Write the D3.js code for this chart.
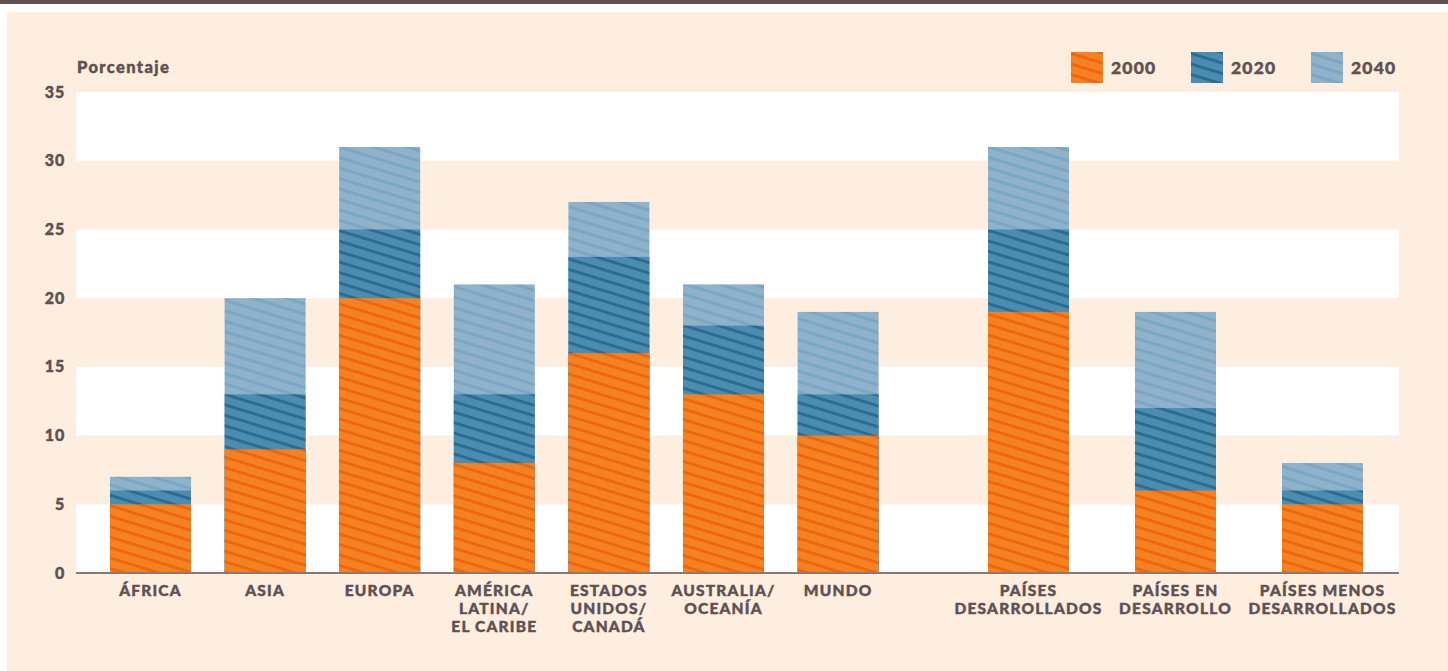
<!DOCTYPE html>
<html>
<head>
<meta charset="utf-8">
<script src="https://cdn.jsdelivr.net/npm/d3@7/dist/d3.min.js"></script>
<style>
  html, body { margin: 0; padding: 0; background: #ffffff; }
  svg { display: block; }
  text { font-family: Lato, "Open Sans", sans-serif; font-weight: 900; fill: #5e5152;
         stroke: #5e5152; stroke-width: 0.45px; }
</style>
</head>
<body>
<script>
// Población de 60 años o más, por región (porcentaje)
const categories = [
  "ÁFRICA", "ASIA", "EUROPA", "AMÉRICA LATINA/ EL CARIBE", "ESTADOS UNIDOS/ CANADÁ",
  "AUSTRALIA/ OCEANÍA", "MUNDO", "PAÍSES DESARROLLADOS", "PAÍSES EN DESARROLLO",
  "PAÍSES MENOS DESARROLLADOS"
];
const labelLines = [
  ["ÁFRICA"], ["ASIA"], ["EUROPA"], ["AMÉRICA", "LATINA/", "EL CARIBE"],
  ["ESTADOS", "UNIDOS/", "CANADÁ"], ["AUSTRALIA/", "OCEANÍA"], ["MUNDO"],
  ["PAÍSES", "DESARROLLADOS"], ["PAÍSES EN", "DESARROLLO"], ["PAÍSES MENOS", "DESARROLLADOS"]
];
const groupOf = ["region", "region", "region", "region", "region", "region", "region",
                 "desarrollo", "desarrollo", "desarrollo"];
const years = ["2000", "2020", "2040"];
const v2000 = [5, 9, 20, 8, 16, 13, 10, 19, 6, 5];
const v2020 = [6, 13, 25, 13, 23, 18, 13, 25, 12, 6];
const v2040 = [7, 20, 31, 21, 27, 21, 19, 31, 19, 8];
const yTicks = [0, 5, 10, 15, 20, 25, 30, 35];

const W = 1448, H = 671;
const svg = d3.select("body").append("svg").attr("width", W).attr("height", H);

// frame: dark rule on top, cream panel below
svg.append("rect").attr("x", 0).attr("y", 0).attr("width", W).attr("height", 4).attr("fill", "#5e5152");
svg.append("rect").attr("x", 7).attr("y", 12).attr("width", W - 7).attr("height", H - 12).attr("fill", "#feeee0");

// hatch patterns
const palette = {
  "2000": { base: "#f58220", stripe: "#ee6412" },
  "2020": { base: "#4a8db1", stripe: "#2b6991" },
  "2040": { base: "#8fb1c9", stripe: "#77a7c4" }
};
const defs = svg.append("defs");
years.forEach(yr => {
  const p = defs.append("pattern")
    .attr("id", "hatch" + yr)
    .attr("patternUnits", "userSpaceOnUse")
    .attr("width", 10).attr("height", 10)
    .attr("patternTransform", "rotate(17)");
  p.append("rect").attr("width", 10).attr("height", 10).attr("fill", palette[yr].base);
  p.append("rect").attr("y", 0).attr("width", 10).attr("height", 2.8).attr("fill", palette[yr].stripe);
});

// scales
const plotLeft = 76, plotRight = 1399, plotTop = 92, plotBottom = 573;
const y = d3.scaleLinear().domain([0, 35]).range([plotBottom, plotTop]);

const regionIdx = categories.filter((c, i) => groupOf[i] === "region");
const devIdx = categories.filter((c, i) => groupOf[i] === "desarrollo");
const xRegion = d3.scaleBand().domain(regionIdx).range([93.2, 895.4]).paddingInner(0.293).paddingOuter(0.1465);
const xDev = d3.scaleBand().domain(devIdx).range([955, 1396]).paddingInner(0.449).paddingOuter(0.2245);
const xPos = (c, i) => groupOf[i] === "region" ? xRegion(c) : xDev(c);
const bw = i => groupOf[i] === "region" ? xRegion.bandwidth() : xDev.bandwidth();

// alternating horizontal bands
const bands = d3.range(0, 35, 5);
svg.append("g").selectAll("rect").data(bands).join("rect")
  .attr("x", plotLeft).attr("width", plotRight - plotLeft)
  .attr("y", d => y(d + 5)).attr("height", d => y(d) - y(d + 5))
  .attr("fill", d => (d / 5) % 2 === 0 ? "#ffffff" : "#feeee0");

// bars: tallest (2040) first, the earlier years drawn over them
const series = [["2040", v2040], ["2020", v2020], ["2000", v2000]];
const barsG = svg.append("g");
series.forEach(([yr, vals]) => {
  barsG.append("g").selectAll("rect").data(categories).join("rect")
    .attr("x", (c, i) => xPos(c, i))
    .attr("width", (c, i) => bw(i))
    .attr("y", (c, i) => y(vals[i]))
    .attr("height", (c, i) => y(0) - y(vals[i]))
    .attr("fill", `url(#hatch${yr})`);
});

// baseline
svg.append("line").attr("x1", plotLeft).attr("x2", plotRight)
  .attr("y1", plotBottom).attr("y2", plotBottom)
  .attr("stroke", "#857a7a").attr("stroke-width", 2);

// y axis labels
const yAxis = d3.axisLeft(y).tickValues(yTicks).tickSize(0).tickPadding(11);
const gy = svg.append("g").attr("transform", `translate(${plotLeft},0)`).call(yAxis);
gy.select(".domain").remove();
gy.selectAll("text")
  .attr("font-size", 16).attr("font-family", "Lato, sans-serif").attr("font-weight", 900)
  .attr("fill", "#5e5152").attr("letter-spacing", 0.8);

svg.append("text").attr("x", 77).attr("y", 73).attr("font-size", 16.5)
  .attr("letter-spacing", 1.4).text("Porcentaje");

// category labels
const lab = svg.append("g").selectAll("text").data(categories).join("text")
  .attr("text-anchor", "middle").attr("font-size", 15.5).attr("letter-spacing", 1.2)
  .attr("transform", (c, i) => `translate(${xPos(c, i) + bw(i) / 2},596)`);
lab.each(function(c, i) {
  d3.select(this).selectAll("tspan").data(labelLines[i]).join("tspan")
    .attr("x", 0).attr("y", (d, k) => k * 18.2).text(d => d);
});

// legend
const legendX = [1071, 1191, 1311];
const lg = svg.append("g").selectAll("g").data(years).join("g")
  .attr("transform", (d, i) => `translate(${legendX[i]},52)`);
lg.append("rect").attr("width", 32).attr("height", 31).attr("fill", d => `url(#hatch${d})`);
lg.append("text").attr("x", 40).attr("y", 22).attr("font-size", 17.5).attr("letter-spacing", 1.2).text(d => d);
</script>
</body>
</html>
